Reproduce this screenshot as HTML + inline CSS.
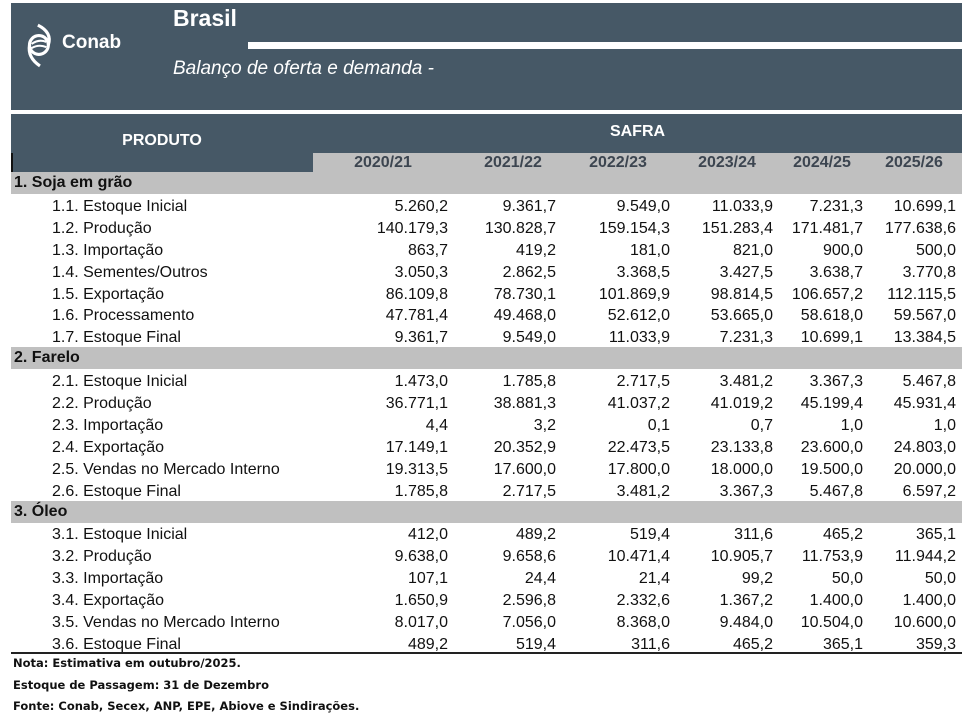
<!DOCTYPE html>
<html><head><meta charset="utf-8"><style>
body{margin:0;width:978px;height:720px;background:#fff;position:relative;overflow:hidden;font-family:"Liberation Sans",Arial,sans-serif;}
.a{position:absolute;}
.r{position:absolute;height:22px;line-height:22px;font-size:16px;color:#111;white-space:nowrap;}
.v{position:absolute;text-align:right;width:120px;}
.sec{background:#c0c0c0;font-weight:bold;left:11px;width:951px;padding-left:3px;box-sizing:border-box;}
.yr{position:absolute;top:153px;height:19px;line-height:19px;font-size:16px;font-weight:bold;color:#3c4550;width:100px;text-align:center;}
.ft{position:absolute;left:13px;font-family:"DejaVu Sans",sans-serif;font-weight:bold;font-size:11.5px;color:#111;}
</style></head><body>
<div class="a" style="left:11px;top:3px;width:951px;height:107px;background:#465866;"></div>
<div class="a" style="left:248px;top:42px;width:714px;height:7px;background:#fff;"></div>
<div class="a" style="left:173px;top:5px;font-size:23px;font-weight:bold;color:#fff;">Brasil</div>
<div class="a" style="left:173px;top:58px;font-size:19px;font-style:italic;color:#fff;">Balanço de oferta e demanda -</div>
<svg class="a" style="left:24px;top:22px" width="34" height="46" viewBox="0 0 30 44">
<circle cx="13" cy="22" r="9" fill="none" stroke="#fff" stroke-width="3"/>
<path d="M6 21 Q13 16 20 19 M6 25 Q13 21 20 24" stroke="#fff" stroke-width="2" fill="none"/>
<path d="M12 3 Q26 10 22 22" stroke="#fff" stroke-width="3" fill="none"/>
<path d="M14 42 Q2 34 4 22" stroke="#fff" stroke-width="3" fill="none"/>
</svg>
<div class="a" style="left:62px;top:32px;font-size:19px;font-weight:bold;color:#fff;">Conab</div>
<div class="a" style="left:11px;top:114px;width:951px;height:39px;background:#465866;"></div>
<div class="a" style="left:11px;top:153px;width:302px;height:19px;background:#465866;"></div>
<div class="a" style="left:11px;top:153px;width:2px;height:19px;background:#111;"></div>
<div class="a" style="left:313px;top:153px;width:649px;height:19px;background:#c0c0c0;"></div>
<div class="a" style="left:11px;top:132px;width:302px;text-align:center;font-size:16px;font-weight:bold;color:#fff;">PRODUTO</div>
<div class="a" style="left:313px;top:123px;width:649px;text-align:center;font-size:16px;font-weight:bold;color:#fff;">SAFRA</div>
<div class="yr" style="left:333px">2020/21</div>
<div class="yr" style="left:463px">2021/22</div>
<div class="yr" style="left:568px">2022/23</div>
<div class="yr" style="left:677px">2023/24</div>
<div class="yr" style="left:772px">2024/25</div>
<div class="yr" style="left:864px">2025/26</div>
<div id="rows"></div>
<div class="a" style="left:11px;top:652px;width:951px;height:2px;background:#222;"></div>
<div class="ft" style="top:656px">Nota: Estimativa em outubro/2025.</div>
<div class="ft" style="top:678px">Estoque de Passagem: 31 de Dezembro</div>
<div class="ft" style="top:699px">Fonte: Conab, Secex, ANP, EPE, Abiove e Sindirações.</div>
<script>
var d=[
["1. Soja em grão"],
["1.1. Estoque Inicial","5.260,2","9.361,7","9.549,0","11.033,9","7.231,3","10.699,1"],
["1.2. Produção","140.179,3","130.828,7","159.154,3","151.283,4","171.481,7","177.638,6"],
["1.3. Importação","863,7","419,2","181,0","821,0","900,0","500,0"],
["1.4. Sementes/Outros","3.050,3","2.862,5","3.368,5","3.427,5","3.638,7","3.770,8"],
["1.5. Exportação","86.109,8","78.730,1","101.869,9","98.814,5","106.657,2","112.115,5"],
["1.6. Processamento","47.781,4","49.468,0","52.612,0","53.665,0","58.618,0","59.567,0"],
["1.7. Estoque Final","9.361,7","9.549,0","11.033,9","7.231,3","10.699,1","13.384,5"],
["2. Farelo"],
["2.1. Estoque Inicial","1.473,0","1.785,8","2.717,5","3.481,2","3.367,3","5.467,8"],
["2.2. Produção","36.771,1","38.881,3","41.037,2","41.019,2","45.199,4","45.931,4"],
["2.3. Importação","4,4","3,2","0,1","0,7","1,0","1,0"],
["2.4. Exportação","17.149,1","20.352,9","22.473,5","23.133,8","23.600,0","24.803,0"],
["2.5. Vendas no Mercado Interno","19.313,5","17.600,0","17.800,0","18.000,0","19.500,0","20.000,0"],
["2.6. Estoque Final","1.785,8","2.717,5","3.481,2","3.367,3","5.467,8","6.597,2"],
["3. Óleo"],
["3.1. Estoque Inicial","412,0","489,2","519,4","311,6","465,2","365,1"],
["3.2. Produção","9.638,0","9.658,6","10.471,4","10.905,7","11.753,9","11.944,2"],
["3.3. Importação","107,1","24,4","21,4","99,2","50,0","50,0"],
["3.4. Exportação","1.650,9","2.596,8","2.332,6","1.367,2","1.400,0","1.400,0"],
["3.5. Vendas no Mercado Interno","8.017,0","7.056,0","8.368,0","9.484,0","10.504,0","10.600,0"],
["3.6. Estoque Final","489,2","519,4","311,6","465,2","365,1","359,3"]];
var R=[448,556,670,773,863,956],h="";
d.forEach(function(r,i){var t=172+i*21.9;
if(r.length==1){h+='<div class="r sec" style="top:'+t+'px">'+r[0]+'</div>';}
else{t+=2;h+='<div class="r" style="top:'+t+'px;left:52px">'+r[0]+'</div>';
for(var j=1;j<7;j++)h+='<div class="r v" style="top:'+t+'px;left:'+(R[j-1]-120)+'px">'+r[j]+'</div>';}});
document.getElementById("rows").innerHTML=h;
</script>
</body></html>
